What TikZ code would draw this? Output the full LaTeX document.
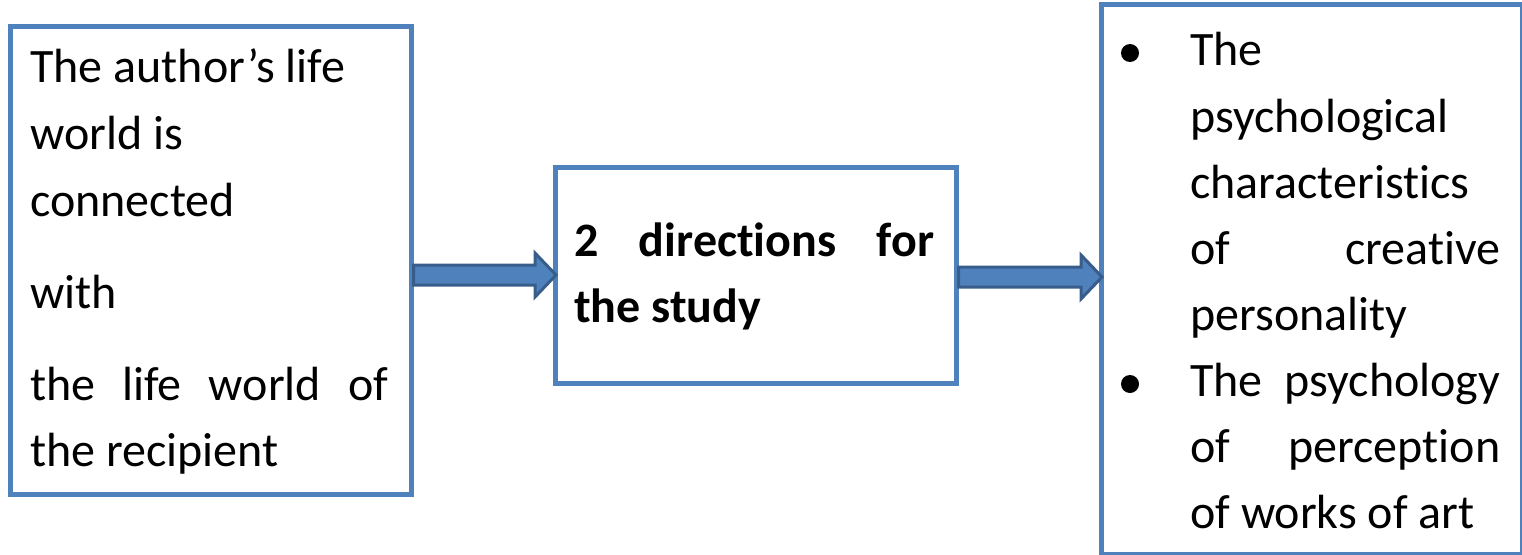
\documentclass[tikz,border=0pt]{standalone}
\usepackage{fontspec}
\setmainfont{Carlito}[Ligatures={NoCommon}]
\usetikzlibrary{calc}
\definecolor{boxblue}{RGB}{79,129,189}
\definecolor{arrowedge}{RGB}{56,93,138}
\tikzset{
  box/.style={draw=boxblue, line width=4.5pt, rectangle, inner sep=0pt, anchor=north west},
  txt/.style={anchor=base west, inner sep=0pt, font=\fontsize{48}{56}\selectfont},
  btxt/.style={txt, font=\fontsize{48}{56}\selectfont\bfseries},
  bul/.style={circle, fill=black, inner sep=0pt, minimum size=18pt},
  barrow/.style={fill=boxblue, draw=arrowedge, line width=3pt, line join=miter}
}
\begin{document}
\begin{tikzpicture}[x=1pt, y=-1pt]
\useasboundingbox (0,0) rectangle (1522,554);
% boxes
\node[box, minimum width=401pt, minimum height=468pt] (left) at (8,24) {};
\node[box, minimum width=401pt, minimum height=216pt] (mid) at (553,165) {};
\node[box, minimum width=421pt, minimum height=550pt] (right) at (1099,2) {};
% left text
\node[txt] (l1) at (30,82) {The author’s life};
\node[txt] (l2) at (30,149) {world is};
\node[txt] (l3) at (30,216) {connected};
\node[txt] (l4) at (30,308) {with};
\node[txt] (l5) at (30,400) {\makebox[358pt][s]{the life world of}};
\node[txt] (l6) at (30,466) {the recipient};
% middle text
\node[btxt] (m1) at (574,256) {\makebox[360pt][s]{2 directions for}};
\node[btxt] (m2) at (574,322) {the study};
% right text
\node[bul] (b1) at (1130,53) {};
\node[bul] (b2) at (1130,384) {};
\node[txt] (r1) at (1190,65) {The};
\node[txt] (r2) at (1190,132) {psychological};
\node[txt] (r3) at (1190,198) {characteristics};
\node[txt] (r4) at (1190,264) {\makebox[310pt][s]{of creative}};
\node[txt] (r5) at (1190,330) {personality};
\node[txt] (r6) at (1190,396) {\makebox[310pt][s]{The psychology}};
\node[txt] (r7) at (1190,462) {\makebox[310pt][s]{of perception}};
\node[txt] (r8) at (1190,528) {of works of art};
% arrows
\coordinate (a1s) at (left.east |- 0,275);
\coordinate (a1e) at ([xshift=3pt]mid.west |- 0,275);
\coordinate (a2s) at (mid.east |- 0,277);
\coordinate (a2e) at ([xshift=3pt]right.west |- 0,277);
\draw[barrow] let \p1=(a1s), \p2=(a1e) in
  (\x1,\y1+10pt) -- (\x2-21pt,\y1+10pt) -- (\x2-21pt,\y1+22pt) -- (\x2,\y2)
  -- (\x2-21pt,\y1-22pt) -- (\x2-21pt,\y1-10pt) -- (\x1,\y1-10pt) -- cycle;
\draw[barrow] let \p1=(a2s), \p2=(a2e) in
  (\x1,\y1+10pt) -- (\x2-21pt,\y1+10pt) -- (\x2-21pt,\y1+22pt) -- (\x2,\y2)
  -- (\x2-21pt,\y1-22pt) -- (\x2-21pt,\y1-10pt) -- (\x1,\y1-10pt) -- cycle;
\end{tikzpicture}
\end{document}
